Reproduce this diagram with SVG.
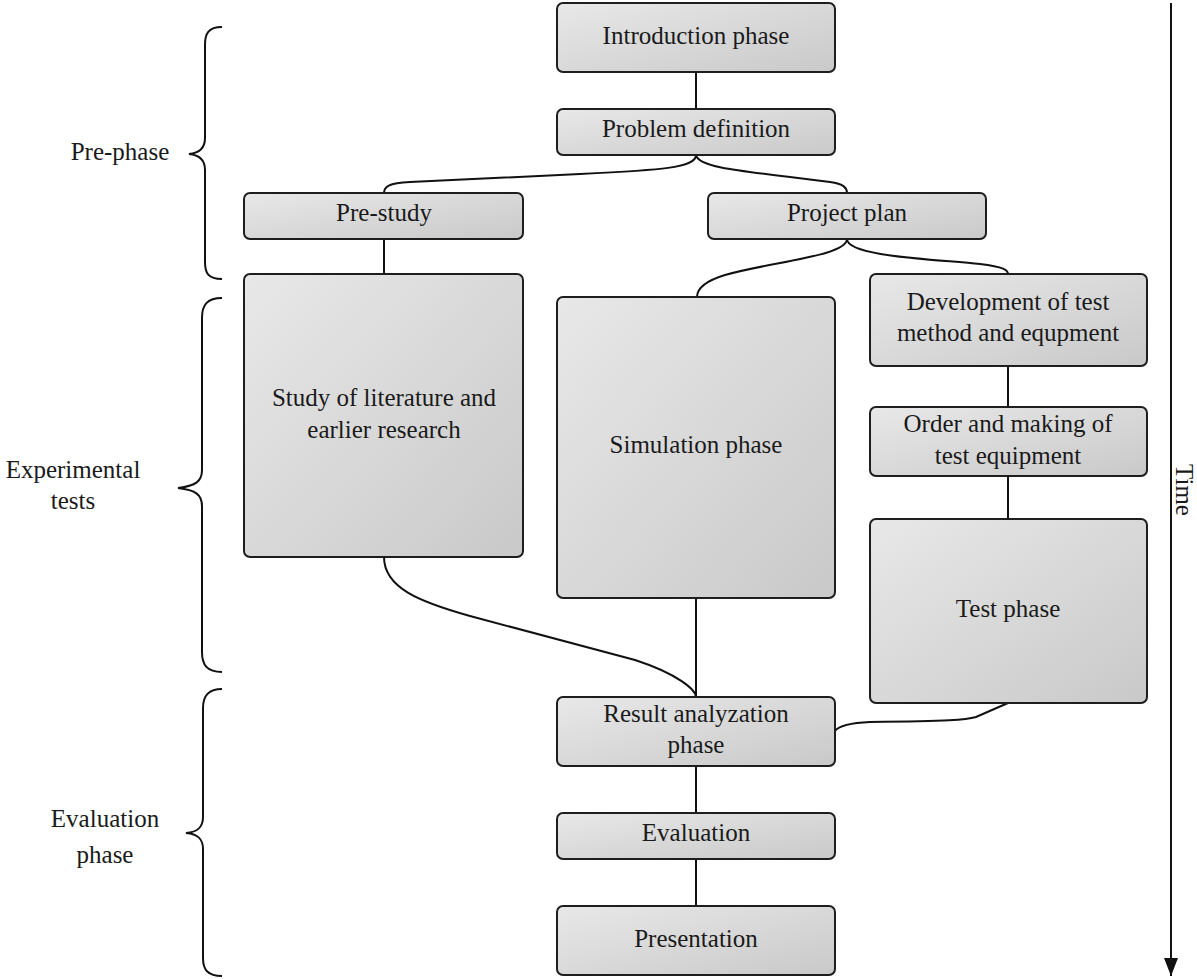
<svg xmlns="http://www.w3.org/2000/svg" width="1197" height="979" viewBox="0 0 1197 979">
<defs>
<linearGradient id="g" x1="0" y1="0" x2="1" y2="1">
<stop offset="0" stop-color="#e8e8e8"/>
<stop offset="1" stop-color="#c9c9c9"/>
</linearGradient>
<marker id="ah" markerWidth="18" markerHeight="14" refX="18" refY="7" orient="auto" markerUnits="userSpaceOnUse" viewBox="0 0 18 14">
<path d="M0,0 L18,7 L0,14 Z" fill="#111"/>
</marker>
</defs>
<style>
.box{fill:url(#g);stroke:#1e1e1e;stroke-width:2}
text{font-family:'Liberation Serif','Times New Roman','DejaVu Serif',serif;font-size:25px;fill:#1a1a1a;text-anchor:middle}
.c{fill:none;stroke:#111;stroke-width:2}
.br{fill:none;stroke:#111;stroke-width:2}
</style>
<rect width="1197" height="979" fill="#fff"/>
<g id="connectors">
<path class="c" d="M696,72 V109"/>
<path class="c" d="M696,155 C696,168 660,170 580,174 L410,182 C388,183 384,187 384,193"/>
<path class="c" d="M696,155 C698,166 730,170 790,177 L830,182 C844,184 847,188 847,193"/>
<path class="c" d="M384,239 V274"/>
<path class="c" d="M847,239 C847,256 770,262 725,275 C702,282 697,290 697,297"/>
<path class="c" d="M847,239 C847,256 930,259 980,264 C1004,267 1008,270 1008,274"/>
<path class="c" d="M1008,366 V407"/>
<path class="c" d="M1008,476 V519"/>
<path class="c" d="M384,557 C384,588 420,602 470,616 L635,660 C678,674 696,690 696,697"/>
<path class="c" d="M696,598 V697"/>
<path class="c" d="M1008,703 L976,717 C966,720 950,721 870,722 C845,723 838,727 835,731"/>
<path class="c" d="M696,766 V813"/>
<path class="c" d="M696,859 V906"/>
<path class="c" d="M1171,3 V976" marker-end="url(#ah)"/>
</g>
<g id="time-label"><text transform="translate(1184,490) rotate(90)" dominant-baseline="central">Time</text></g>
<g id="brace-prephase">
<path class="br" d="M222,27 C208,27 205,34 205,45 V138 C205,148 200,153 189,154 C200,155 205,160 205,170 V262 C205,273 208,279 222,279"/>
<text x="120" y="160">Pre-phase</text>
</g>
<g id="brace-experimental">
<path class="br" d="M222,298 C207,298 202,305 202,318 V470 C202,481 196,486 178,488 C196,490 202,495 202,506 V652 C202,665 207,672 222,672"/>
<text x="73" y="478">Experimental</text>
<text x="73" y="509">tests</text>
</g>
<g id="brace-evaluation">
<path class="br" d="M222,689 C208,689 203,696 203,708 V817 C203,827 198,832 186,833 C198,834 203,839 203,849 V958 C203,970 208,976 222,976"/>
<text x="105" y="827">Evaluation</text>
<text x="105" y="863">phase</text>
</g>
<g id="n-intro"><rect class="box" x="557" y="3" width="278" height="69" rx="6"/><text x="696" y="44">Introduction phase</text></g>
<g id="n-problem"><rect class="box" x="557" y="109" width="278" height="46" rx="6"/><text x="696" y="137">Problem definition</text></g>
<g id="n-prestudy"><rect class="box" x="244" y="193" width="279" height="46" rx="6"/><text x="384" y="221">Pre-study</text></g>
<g id="n-projectplan"><rect class="box" x="708" y="193" width="278" height="46" rx="6"/><text x="847" y="221">Project plan</text></g>
<g id="n-study"><rect class="box" x="244" y="274" width="279" height="283" rx="6"/><text x="384" y="406">Study of literature and</text><text x="384" y="438">earlier research</text></g>
<g id="n-simulation"><rect class="box" x="557" y="297" width="278" height="301" rx="6"/><text x="696" y="453">Simulation phase</text></g>
<g id="n-development"><rect class="box" x="870" y="274" width="277" height="92" rx="6"/><text x="1008" y="310">Development of test</text><text x="1008" y="341">method and equpment</text></g>
<g id="n-order"><rect class="box" x="870" y="407" width="277" height="69" rx="6"/><text x="1008" y="432">Order and making of</text><text x="1008" y="464">test equipment</text></g>
<g id="n-test"><rect class="box" x="870" y="519" width="277" height="184" rx="6"/><text x="1008" y="617">Test phase</text></g>
<g id="n-result"><rect class="box" x="557" y="697" width="278" height="69" rx="6"/><text x="696" y="722">Result analyzation</text><text x="696" y="753">phase</text></g>
<g id="n-evaluation"><rect class="box" x="557" y="813" width="278" height="46" rx="6"/><text x="696" y="841">Evaluation</text></g>
<g id="n-presentation"><rect class="box" x="557" y="906" width="278" height="69" rx="6"/><text x="696" y="947">Presentation</text></g>
</svg>
